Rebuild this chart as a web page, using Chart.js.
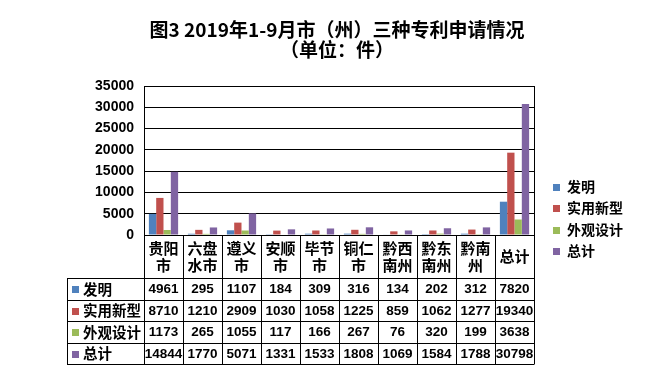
<!DOCTYPE html>
<html>
<head>
<meta charset="utf-8">
<script src="https://cdn.jsdelivr.net/npm/chart.js@4/dist/chart.umd.min.js"></script>
<style>
html,body{margin:0;padding:0;background:#fff;}
#wrap{width:646px;height:377px;}
</style>
</head>
<body>
<div id="wrap"><canvas id="c" width="646" height="377"></canvas></div>
<script>
const titleLines = ['图3 2019年1-9月市（州）三种专利申请情况', '（单位：件）'];
const categories = [['贵阳','市'],['六盘','水市'],['遵义','市'],['安顺','市'],['毕节','市'],['铜仁','市'],['黔西','南州'],['黔东','南州'],['黔南','州'],['总计']];
const seriesNames = ['发明','实用新型','外观设计','总计'];
const invention = [4961,295,1107,184,309,316,134,202,312,7820];
const utilityModel = [8710,1210,2909,1030,1058,1225,859,1062,1277,19340];
const design = [1173,265,1055,117,166,267,76,320,199,3638];
const total = [14844,1770,5071,1331,1533,1808,1069,1584,1788,30798];
const yTicks = [0,5000,10000,15000,20000,25000,30000,35000];
const colors = ['#4F81BD','#C0504D','#9BBB59','#8064A2'];

const seriesValues = [invention, utilityModel, design, total];

const CJK = '"Noto Sans CJK SC","Noto Sans",sans-serif';
const NUM = '"Liberation Sans",Arial,sans-serif';

function px(v){ return Math.round(v) + 0.5; }

const tablePlugin = {
  id: 'tablePlugin',
  afterDraw(chart){
    const ctx = chart.ctx;
    const x = chart.scales.x;
    const ca = chart.chartArea;
    const n = categories.length;
    const colW = (x.right - x.left) / n;
    const tableLeft = 67;
    const headerBottom = 278;
    const rowH = 21.5;
    const rowTops = [headerBottom, headerBottom + rowH, headerBottom + 2*rowH, headerBottom + 3*rowH];
    const tableBottom = headerBottom + 4*rowH;

    ctx.save();
    // title
    ctx.fillStyle = '#000';
    ctx.textAlign = 'center';
    ctx.textBaseline = 'middle';
    ctx.font = 'bold 19px ' + CJK;
    ctx.fillText(titleLines[0], 337, 30);
    ctx.fillText(titleLines[1], 337, 50);

    // lines
    ctx.strokeStyle = '#000';
    ctx.lineWidth = 1;
    ctx.beginPath();
    ctx.moveTo(px(ca.right), ca.top);
    ctx.lineTo(px(ca.right), tableBottom);
    ctx.moveTo(px(ca.left), ca.bottom);
    ctx.lineTo(px(ca.left), tableBottom);
    for (let i = 1; i < n; i++) {
      const xx = px(x.left + i*colW);
      ctx.moveTo(xx, ca.bottom);
      ctx.lineTo(xx, tableBottom);
    }
    for (let r = 0; r <= 4; r++) {
      const yy = px(headerBottom + r*rowH);
      ctx.moveTo(tableLeft, yy);
      ctx.lineTo(ca.right + 0.5, yy);
    }
    ctx.moveTo(px(tableLeft), px(headerBottom));
    ctx.lineTo(px(tableLeft), px(tableBottom));
    ctx.stroke();

    // category labels
    ctx.font = 'bold 15px ' + CJK;
    ctx.textAlign = 'center';
    ctx.textBaseline = 'middle';
    const hdrMid = (ca.bottom + headerBottom) / 2;
    categories.forEach((lines, i) => {
      const cx = x.getPixelForValue(i);
      if (lines.length === 1) {
        ctx.fillText(lines[0], cx, hdrMid);
      } else {
        ctx.fillText(lines[0], cx, hdrMid - 8.5);
        ctx.fillText(lines[1], cx, hdrMid + 8.5);
      }
    });

    // row headers and values
    seriesNames.forEach((name, r) => {
      const cy = rowTops[r] + rowH/2 + 0.5;
      ctx.fillStyle = colors[r];
      ctx.fillRect(72, Math.round(cy) - 3, 7, 7);
      ctx.fillStyle = '#000';
      ctx.font = 'bold 14.5px ' + CJK;
      ctx.textAlign = 'left';
      ctx.fillText(name, 83, cy);
      ctx.font = 'bold 13.5px ' + NUM;
      ctx.textAlign = 'center';
      seriesValues[r].forEach((v, i) => {
        ctx.fillText(String(v), x.getPixelForValue(i), cy + 0.5);
      });
    });

    // legend
    const legY = [187, 208, 229.5, 250.5];
    seriesNames.forEach((name, r) => {
      ctx.fillStyle = colors[r];
      ctx.fillRect(553, Math.round(legY[r]) - 3, 7, 7);
      ctx.fillStyle = '#000';
      ctx.font = 'bold 14px ' + CJK;
      ctx.textAlign = 'left';
      ctx.textBaseline = 'middle';
      ctx.fillText(name, 567, legY[r]);
    });
    ctx.restore();
  }
};

new Chart(document.getElementById('c'), {
  type: 'bar',
  data: {
    labels: categories.map(c => c.join('')),
    datasets: seriesNames.map((name, i) => ({
      label: name,
      data: seriesValues[i],
      backgroundColor: colors[i],
      borderWidth: 0,
      categoryPercentage: 0.75,
      barPercentage: 1.0
    }))
  },
  options: {
    responsive: false,
    animation: false,
    layout: { padding: { left: 0, top: 86, right: 112, bottom: 142 } },
    plugins: {
      legend: { display: false },
      title: { display: false },
      tooltip: { enabled: false }
    },
    scales: {
      x: { display: false },
      y: {
        min: 0,
        max: 35000,
        afterFit(scale){ scale.width = 144; },
        afterBuildTicks(scale){ scale.ticks = yTicks.map(v => ({ value: v })); },
        grid: { color: '#000', lineWidth: 1, drawTicks: false },
        border: { display: true, color: '#000', width: 1 },
        ticks: {
          padding: 10,
          color: '#000',
          font: { family: NUM, weight: 'bold', size: 14 },
          callback: v => String(v)
        }
      }
    }
  },
  plugins: [tablePlugin]
});
</script>
</body>
</html>
